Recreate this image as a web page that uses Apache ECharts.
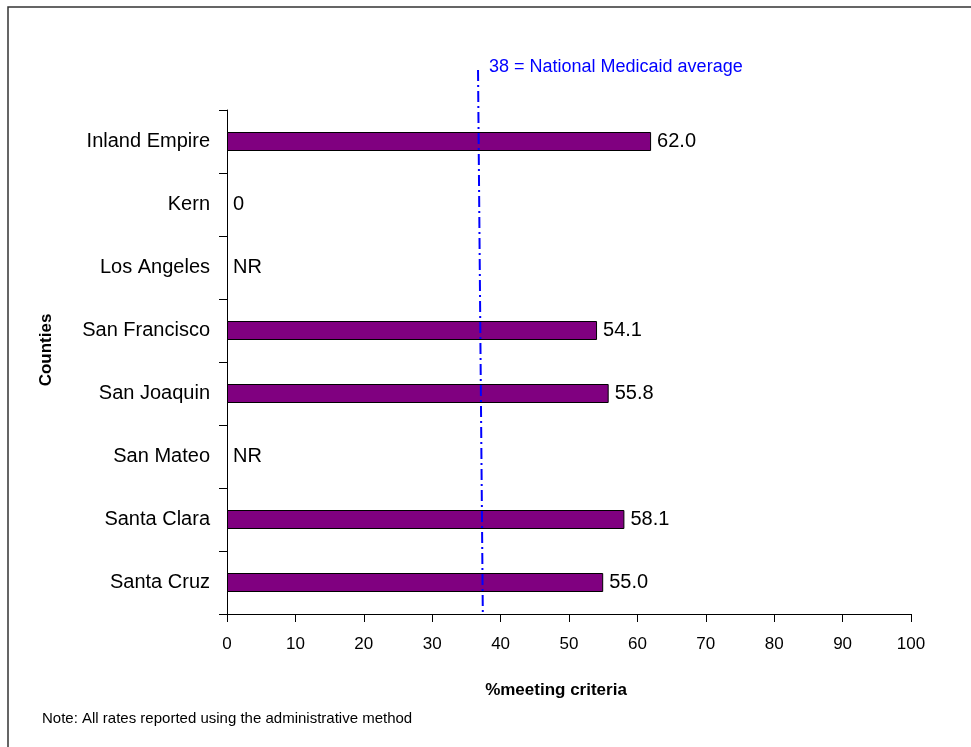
<!DOCTYPE html>
<html>
<head>
<meta charset="utf-8">
<script src="https://cdn.jsdelivr.net/npm/echarts@6/dist/echarts.min.js"></script>
<style>
  html, body { margin: 0; padding: 0; background: #fff; }
  #chart { width: 971px; height: 747px; }
</style>
</head>
<body>
<div id="chart"></div>
<script>
// counties, top to bottom
var counties = ['Inland Empire', 'Kern', 'Los Angeles', 'San Francisco', 'San Joaquin', 'San Mateo', 'Santa Clara', 'Santa Cruz'];
// NR = not reported, drawn as an empty bar
var rates = [62.0, 0, 0, 54.1, 55.8, 0, 58.1, 55.0];
var rateLabels = ['62.0', '0', 'NR', '54.1', '55.8', 'NR', '58.1', '55.0'];
var xTicks = [0, 10, 20, 30, 40, 50, 60, 70, 80, 90, 100];
// the reference line is drawn slightly slanted (top, bottom)
var avgLine = [36.7, 37.4];
var avgText = '38 = National Medicaid average';

var chart = echarts.init(document.getElementById('chart'));
var font = 'Liberation Sans, Arial, sans-serif';

var barData = rates.map(function (v, i) {
  var item = { value: v };
  if (v === 0) item.itemStyle = { borderWidth: 0 };
  return item;
});

var option = {
  animation: false,
  textStyle: { fontFamily: font },
  graphic: [
    { type: 'rect', shape: { x: 8, y: 7, width: 1000, height: 800 },
      style: { fill: 'none', stroke: '#333', lineWidth: 1.5 } },
    { type: 'text', left: 489, top: 58,
      style: { text: avgText, fill: '#0000ff', font: '18px ' + font } },
    { type: 'text', left: 42, top: 711,
      style: { text: 'Note: All rates reported using the administrative method', fill: '#000', font: '15px ' + font } }
  ],
  grid: [
    { left: 227, right: 60, top: 110, bottom: 133 },
    { left: 227, right: 60, top: 70, bottom: 133 }
  ],
  xAxis: [
    {
      type: 'value', gridIndex: 0, min: 0, max: 100, interval: 10,
      axisLine: { show: true, lineStyle: { color: '#000' } },
      axisTick: { show: true, length: 8, lineStyle: { color: '#000' } },
      splitLine: { show: false },
      axisLabel: { color: '#000', fontSize: 17, margin: 22,
        formatter: function (v) { return xTicks.indexOf(v) >= 0 ? String(v) : ''; } },
      name: '%meeting criteria', nameLocation: 'middle', nameGap: 68,
      nameTextStyle: { color: '#000', fontSize: 17, fontWeight: 'bold', padding: [0, 26, 0, 0] }
    },
    { type: 'value', gridIndex: 1, min: 0, max: 100, show: false }
  ],
  yAxis: [
    {
      type: 'category', gridIndex: 0, data: counties, inverse: true,
      axisLine: { show: true, lineStyle: { color: '#000' } },
      axisTick: { show: true, length: 8, lineStyle: { color: '#000' } },
      axisLabel: { color: '#000', fontSize: 20, margin: 17 },
      name: 'Counties', nameLocation: 'middle', nameGap: 172, nameRotate: 90,
      nameTextStyle: { color: '#000', fontSize: 17, fontWeight: 'bold', padding: [0, 0, 0, 24] }
    },
    { type: 'value', gridIndex: 1, min: 0, max: 1, show: false }
  ],
  series: [
    {
      type: 'bar', xAxisIndex: 0, yAxisIndex: 0,
      data: barData, barWidth: 19,
      itemStyle: { color: '#800080', borderColor: '#000', borderWidth: 1 },
      label: {
        show: true, position: 'right', distance: 6,
        color: '#000', fontSize: 20,
        formatter: function (p) { return rateLabels[p.dataIndex]; }
      },
      z: 2
    },
    {
      type: 'line', xAxisIndex: 1, yAxisIndex: 1,
      data: [[avgLine[0], 1], [avgLine[1], 0]],
      symbol: 'none', silent: true,
      lineStyle: { color: '#0000ff', width: 2, type: [11, 4, 2, 4] },
      z: 5
    }
  ]
};

chart.setOption(option);
</script>
</body>
</html>
